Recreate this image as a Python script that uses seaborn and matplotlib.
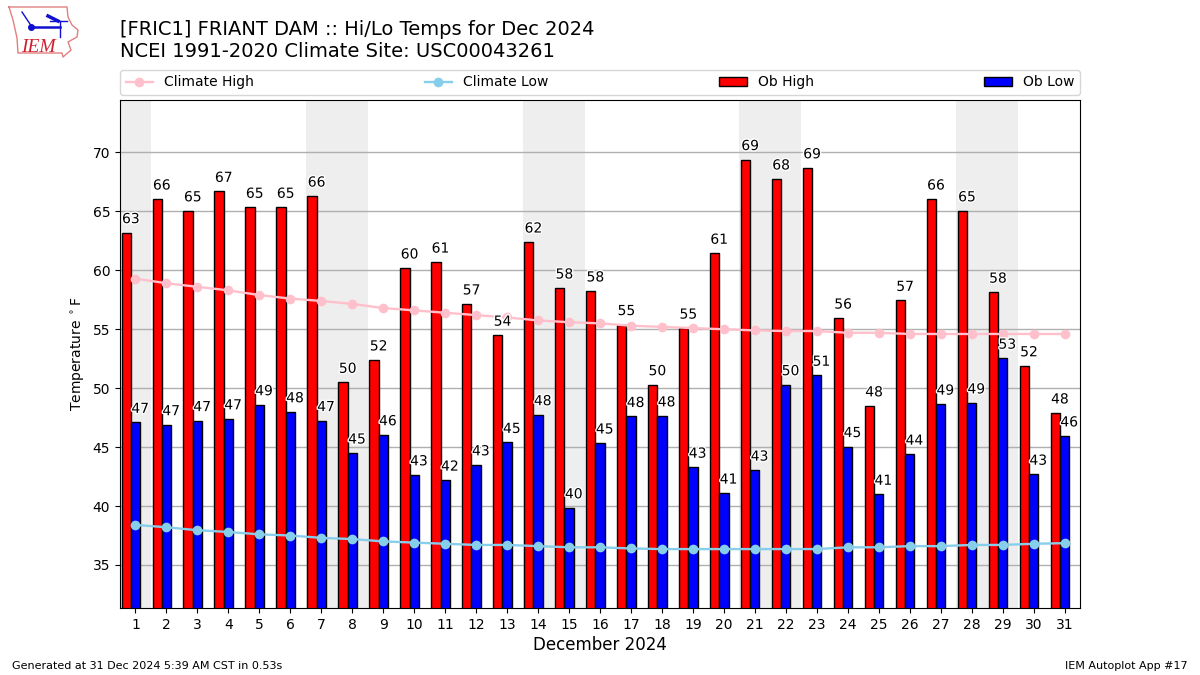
import matplotlib
matplotlib.use('Agg')
import matplotlib.pyplot as plt
import matplotlib.patheffects as pe
from matplotlib.lines import Line2D
from matplotlib.patches import Patch
import numpy as np
import seaborn as sns

days = list(range(1, 32))
ob_high = [63.2, 66.05, 65.05, 66.7, 65.35, 65.35, 66.3, 50.5, 52.4, 60.2, 60.7, 57.15, 54.5, 62.4, 58.5, 58.25,
           55.4, 50.3, 55.1, 61.45, 69.4, 67.75, 68.7, 55.95, 48.5, 57.45, 66.05, 65.05, 58.15, 51.9, 47.9]
ob_low = [47.1, 46.9, 47.25, 47.4, 48.6, 48.0, 47.25, 44.5, 46.05, 42.65, 42.2, 43.5, 45.4, 47.75, 39.85, 45.35,
          47.6, 47.65, 43.3, 41.1, 43.05, 50.3, 51.1, 45.05, 41.0, 44.4, 48.65, 48.75, 52.55, 42.7, 45.95]
high_labels = [63, 66, 65, 67, 65, 65, 66, 50, 52, 60, 61, 57, 54, 62, 58, 58,
               55, 50, 55, 61, 69, 68, 69, 56, 48, 57, 66, 65, 58, 52, 48]
low_labels = [47, 47, 47, 47, 49, 48, 47, 45, 46, 43, 42, 43, 45, 48, 40, 45,
              48, 48, 43, 41, 43, 50, 51, 45, 41, 44, 49, 49, 53, 43, 46]
climate_high = [59.3, 58.9, 58.6, 58.3, 57.9, 57.6, 57.4, 57.15, 56.8, 56.6, 56.4, 56.2, 56.0, 55.75, 55.6, 55.5,
                55.3, 55.2, 55.1, 55.0, 54.9, 54.85, 54.85, 54.7, 54.7, 54.6, 54.6, 54.6, 54.6, 54.6, 54.6]
climate_low = [38.4, 38.2, 37.95, 37.8, 37.6, 37.5, 37.3, 37.2, 37.0, 36.9, 36.8, 36.7, 36.7, 36.6, 36.5, 36.5,
               36.4, 36.35, 36.35, 36.35, 36.35, 36.35, 36.35, 36.5, 36.5, 36.6, 36.6, 36.7, 36.7, 36.8, 36.85]
weekends = [(0.5, 1.5), (6.5, 8.5), (13.5, 15.5), (20.5, 22.5), (27.5, 29.5)]

W, H = 1200, 675
fig = plt.figure(figsize=(12, 6.75), dpi=100)
ax = fig.add_axes([120 / W, 1 - 608 / H, 960 / W, 508 / H])

for start, end in weekends:
    ax.axvspan(start, end, color='#eeeeee', lw=0, zorder=0)

day_arr = np.array(days)
sns.barplot(x=day_arr - 0.3, y=ob_high, native_scale=True, width=0.3, color='red', saturation=1,
            edgecolor='black', linewidth=1, ax=ax, zorder=2)
sns.barplot(x=day_arr.astype(float), y=ob_low, native_scale=True, width=0.3, color='blue', saturation=1,
            edgecolor='black', linewidth=1, ax=ax, zorder=2)
sns.lineplot(x=days, y=climate_high, color='pink', marker='o', markersize=7, markeredgewidth=0, linewidth=1.7,
             ax=ax, zorder=3)
sns.lineplot(x=days, y=climate_low, color='skyblue', marker='o', markersize=7, markeredgewidth=0, linewidth=1.7,
             ax=ax, zorder=3)

# value labels, white halo like the original
halo = [pe.withStroke(linewidth=2, foreground='white')]
for d, h, l, hl, ll in zip(days, ob_high, ob_low, high_labels, low_labels):
    ax.text(d - 0.15, h + 0.55, str(hl), ha='center', va='bottom', fontsize=10, path_effects=halo, zorder=4)
    ax.text(d + 0.15, l + 0.55, str(ll), ha='center', va='bottom', fontsize=10, path_effects=halo, zorder=4)

ax.set_xlim(0.5, 31.5)
ax.set_ylim(31.35, 74.45)
ax.set_xticks(days)
ax.set_xticklabels([str(d) for d in days])
ax.set_yticks(range(35, 75, 5))
ax.yaxis.grid(True, color='#b0b0b0', lw=1, zorder=1)
ax.xaxis.grid(False)
ax.set_axisbelow(True)
ax.tick_params(labelsize=10)
ax.set_xlabel('December 2024', fontsize=12, labelpad=3)
ax.set_ylabel(r'Temperature $^\circ$F', fontsize=10)

handles = [
    Line2D([], [], color='pink', marker='o', markersize=7, markeredgewidth=0, lw=1.7),
    Line2D([], [], color='skyblue', marker='o', markersize=7, markeredgewidth=0, lw=1.7),
    Patch(facecolor='red', edgecolor='black'),
    Patch(facecolor='blue', edgecolor='black'),
]
ax.legend(handles, ['Climate High', 'Climate Low', 'Ob High', 'Ob Low'], ncol=4, mode='expand', loc='lower left',
          bbox_to_anchor=(0, 1 + 5 / 508, 1, 25 / 508), borderaxespad=0, fontsize=10)

fig.text(120 / W, 1 - 61 / H, '[FRIC1] FRIANT DAM :: Hi/Lo Temps for Dec 2024\nNCEI 1991-2020 Climate Site: USC00043261',
         fontsize=14, ha='left', va='bottom')
fig.text(12 / W, 1 - 671 / H, 'Generated at 31 Dec 2024 5:39 AM CST in 0.53s', fontsize=8, ha='left', va='bottom')
fig.text(1188 / W, 1 - 671 / H, 'IEM Autoplot App #17', fontsize=8, ha='right', va='bottom')

# rough IEM logo, drawn in pixel coordinates of the figure
logo = fig.add_axes([0, 0, 1, 1], facecolor='none')
logo.set_xlim(0, W)
logo.set_ylim(H, 0)
logo.axis('off')
outline_x = [9, 67, 68, 72, 78, 77, 68, 71, 63, 62, 18, 17, 13, 9]
outline_y = [7, 7, 17, 25, 30, 37, 42, 50, 57, 53, 53, 38, 20, 7]
logo.plot(outline_x, outline_y, color='#e08080', lw=1)
logo.plot([32, 60], [27, 27], color='#1010d0', lw=1.8)
logo.plot([22, 32], [12, 27], color='#1010d0', lw=1)
logo.plot([48, 58], [16, 21], color='#1010d0', lw=2.5)
logo.plot([50, 67], [21, 21], color='#1010d0', lw=1)
logo.plot([60, 60], [21, 37], color='#1010d0', lw=1)
logo.plot([31], [27], 'o', color='#1010d0', ms=4)
logo.text(21, 52, 'IEM', family='Liberation Serif', style='italic', color='#d02030', fontsize=14, ha='left', va='baseline')

fig.savefig('out.png', dpi=100)
